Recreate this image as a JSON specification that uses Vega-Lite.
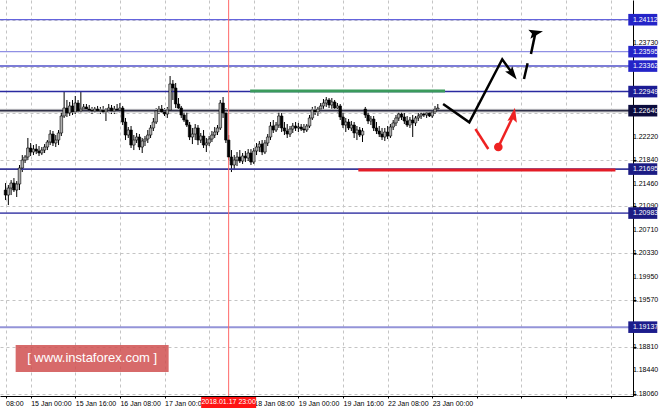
{
"$schema": "https://vega.github.io/schema/vega-lite/v6.json",
"width": 633, "height": 396,
"autosize": {"type": "none"},
"padding": {"left": 0, "top": 0, "right": 32, "bottom": 12},
"background": "#ffffff",
"config": {"view": {"stroke": null}, "font": "Liberation Sans"},
"datasets": {
"candles": [
{"i":7,"o":1.21356,"h":1.21469,"l":1.21194,"c":1.21275},
{"i":8,"o":1.21275,"h":1.21437,"l":1.21113,"c":1.21388},
{"i":9,"o":1.21388,"h":1.21517,"l":1.21275,"c":1.21469},
{"i":10,"o":1.21469,"h":1.21550,"l":1.21324,"c":1.21356},
{"i":11,"o":1.21356,"h":1.21501,"l":1.21243,"c":1.21453},
{"i":12,"o":1.21453,"h":1.21761,"l":1.21356,"c":1.21712},
{"i":13,"o":1.21712,"h":1.21922,"l":1.21647,"c":1.21841},
{"i":14,"o":1.21841,"h":1.21922,"l":1.21793,"c":1.21890},
{"i":15,"o":1.21890,"h":1.22198,"l":1.21841,"c":1.22036},
{"i":16,"o":1.22036,"h":1.22117,"l":1.21906,"c":1.21971},
{"i":17,"o":1.21971,"h":1.22084,"l":1.21922,"c":1.22019},
{"i":18,"o":1.22019,"h":1.22100,"l":1.21938,"c":1.21987},
{"i":19,"o":1.21987,"h":1.22068,"l":1.21906,"c":1.21955},
{"i":20,"o":1.21955,"h":1.22052,"l":1.21922,"c":1.22003},
{"i":21,"o":1.22003,"h":1.22100,"l":1.21955,"c":1.22052},
{"i":22,"o":1.22052,"h":1.22165,"l":1.22003,"c":1.22133},
{"i":23,"o":1.22133,"h":1.22327,"l":1.22084,"c":1.22262},
{"i":24,"o":1.22262,"h":1.22311,"l":1.22068,"c":1.22117},
{"i":25,"o":1.22117,"h":1.22246,"l":1.22052,"c":1.22165},
{"i":26,"o":1.22165,"h":1.22327,"l":1.22084,"c":1.22279},
{"i":27,"o":1.22279,"h":1.22619,"l":1.22230,"c":1.22554},
{"i":28,"o":1.22554,"h":1.22942,"l":1.22522,"c":1.22683},
{"i":29,"o":1.22683,"h":1.22813,"l":1.22538,"c":1.22603},
{"i":30,"o":1.22603,"h":1.22781,"l":1.22554,"c":1.22716},
{"i":31,"o":1.22716,"h":1.22813,"l":1.22570,"c":1.22619},
{"i":32,"o":1.22619,"h":1.22878,"l":1.22586,"c":1.22764},
{"i":33,"o":1.22764,"h":1.22813,"l":1.22603,"c":1.22635},
{"i":34,"o":1.22635,"h":1.22942,"l":1.22603,"c":1.22667},
{"i":35,"o":1.22667,"h":1.22748,"l":1.22619,"c":1.22700},
{"i":36,"o":1.22700,"h":1.22748,"l":1.22635,"c":1.22667},
{"i":37,"o":1.22667,"h":1.22732,"l":1.22603,"c":1.22651},
{"i":38,"o":1.22651,"h":1.22700,"l":1.22586,"c":1.22635},
{"i":39,"o":1.22635,"h":1.22700,"l":1.22603,"c":1.22667},
{"i":40,"o":1.22667,"h":1.22716,"l":1.22619,"c":1.22635},
{"i":41,"o":1.22635,"h":1.22700,"l":1.22586,"c":1.22651},
{"i":42,"o":1.22651,"h":1.22716,"l":1.22603,"c":1.22619},
{"i":43,"o":1.22619,"h":1.22683,"l":1.22473,"c":1.22651},
{"i":44,"o":1.22651,"h":1.22748,"l":1.22603,"c":1.22683},
{"i":45,"o":1.22683,"h":1.22732,"l":1.22586,"c":1.22635},
{"i":46,"o":1.22635,"h":1.22716,"l":1.22586,"c":1.22667},
{"i":47,"o":1.22667,"h":1.22748,"l":1.22619,"c":1.22651},
{"i":48,"o":1.22651,"h":1.22764,"l":1.22603,"c":1.22683},
{"i":49,"o":1.22683,"h":1.22716,"l":1.22408,"c":1.22457},
{"i":50,"o":1.22457,"h":1.22522,"l":1.22165,"c":1.22246},
{"i":51,"o":1.22246,"h":1.22376,"l":1.22198,"c":1.22327},
{"i":52,"o":1.22327,"h":1.22392,"l":1.22036,"c":1.22084},
{"i":53,"o":1.22084,"h":1.22246,"l":1.22003,"c":1.22165},
{"i":54,"o":1.22165,"h":1.22279,"l":1.22117,"c":1.22214},
{"i":55,"o":1.22214,"h":1.22262,"l":1.22003,"c":1.22052},
{"i":56,"o":1.22052,"h":1.22198,"l":1.21955,"c":1.22149},
{"i":57,"o":1.22149,"h":1.22230,"l":1.22068,"c":1.22181},
{"i":58,"o":1.22181,"h":1.22327,"l":1.22117,"c":1.22246},
{"i":59,"o":1.22246,"h":1.22408,"l":1.22198,"c":1.22360},
{"i":60,"o":1.22360,"h":1.22522,"l":1.22311,"c":1.22457},
{"i":61,"o":1.22457,"h":1.22683,"l":1.22424,"c":1.22635},
{"i":62,"o":1.22635,"h":1.22716,"l":1.22586,"c":1.22667},
{"i":63,"o":1.22667,"h":1.22732,"l":1.22603,"c":1.22619},
{"i":64,"o":1.22619,"h":1.22683,"l":1.22554,"c":1.22586},
{"i":65,"o":1.22586,"h":1.22700,"l":1.22522,"c":1.22651},
{"i":66,"o":1.22651,"h":1.23201,"l":1.22619,"c":1.23072},
{"i":67,"o":1.23072,"h":1.23136,"l":1.22813,"c":1.23007},
{"i":68,"o":1.23007,"h":1.23088,"l":1.22683,"c":1.22748},
{"i":69,"o":1.22748,"h":1.22845,"l":1.22651,"c":1.22683},
{"i":70,"o":1.22683,"h":1.22716,"l":1.22522,"c":1.22570},
{"i":71,"o":1.22570,"h":1.22651,"l":1.22457,"c":1.22489},
{"i":72,"o":1.22489,"h":1.22619,"l":1.22376,"c":1.22408},
{"i":73,"o":1.22408,"h":1.22457,"l":1.22165,"c":1.22214},
{"i":74,"o":1.22214,"h":1.22360,"l":1.22100,"c":1.22262},
{"i":75,"o":1.22262,"h":1.22424,"l":1.22165,"c":1.22360},
{"i":76,"o":1.22360,"h":1.22408,"l":1.22084,"c":1.22165},
{"i":77,"o":1.22165,"h":1.22279,"l":1.22117,"c":1.22230},
{"i":78,"o":1.22230,"h":1.22327,"l":1.22036,"c":1.22084},
{"i":79,"o":1.22084,"h":1.22198,"l":1.21971,"c":1.22117},
{"i":80,"o":1.22117,"h":1.22230,"l":1.22068,"c":1.22181},
{"i":81,"o":1.22181,"h":1.22311,"l":1.22133,"c":1.22246},
{"i":82,"o":1.22246,"h":1.22376,"l":1.22198,"c":1.22295},
{"i":83,"o":1.22295,"h":1.22408,"l":1.22246,"c":1.22360},
{"i":84,"o":1.22360,"h":1.22813,"l":1.22327,"c":1.22764},
{"i":85,"o":1.22764,"h":1.22861,"l":1.22522,"c":1.22603},
{"i":86,"o":1.22603,"h":1.22683,"l":1.22117,"c":1.22165},
{"i":87,"o":1.22165,"h":1.22246,"l":1.21841,"c":1.21890},
{"i":88,"o":1.21890,"h":1.22003,"l":1.21647,"c":1.21761},
{"i":89,"o":1.21761,"h":1.21922,"l":1.21679,"c":1.21841},
{"i":90,"o":1.21841,"h":1.21971,"l":1.21744,"c":1.21890},
{"i":91,"o":1.21890,"h":1.22003,"l":1.21793,"c":1.21825},
{"i":92,"o":1.21825,"h":1.21955,"l":1.21777,"c":1.21906},
{"i":93,"o":1.21906,"h":1.21987,"l":1.21809,"c":1.21874},
{"i":94,"o":1.21874,"h":1.22019,"l":1.21825,"c":1.21955},
{"i":95,"o":1.21955,"h":1.22019,"l":1.21761,"c":1.21809},
{"i":96,"o":1.21809,"h":1.22036,"l":1.21777,"c":1.21987},
{"i":97,"o":1.21987,"h":1.22117,"l":1.21922,"c":1.22052},
{"i":98,"o":1.22052,"h":1.22149,"l":1.21971,"c":1.22100},
{"i":99,"o":1.22100,"h":1.22165,"l":1.21922,"c":1.21971},
{"i":100,"o":1.21971,"h":1.22165,"l":1.21938,"c":1.22117},
{"i":101,"o":1.22117,"h":1.22262,"l":1.22068,"c":1.22214},
{"i":102,"o":1.22214,"h":1.22457,"l":1.22165,"c":1.22392},
{"i":103,"o":1.22392,"h":1.22489,"l":1.22279,"c":1.22327},
{"i":104,"o":1.22327,"h":1.22457,"l":1.22295,"c":1.22408},
{"i":105,"o":1.22408,"h":1.22619,"l":1.22360,"c":1.22554},
{"i":106,"o":1.22554,"h":1.22603,"l":1.22295,"c":1.22360},
{"i":107,"o":1.22360,"h":1.22457,"l":1.22246,"c":1.22311},
{"i":108,"o":1.22311,"h":1.22424,"l":1.22198,"c":1.22262},
{"i":109,"o":1.22262,"h":1.22392,"l":1.22214,"c":1.22343},
{"i":110,"o":1.22343,"h":1.22441,"l":1.22279,"c":1.22392},
{"i":111,"o":1.22392,"h":1.22457,"l":1.22311,"c":1.22360},
{"i":112,"o":1.22360,"h":1.22441,"l":1.22295,"c":1.22376},
{"i":113,"o":1.22376,"h":1.22424,"l":1.22311,"c":1.22343},
{"i":114,"o":1.22343,"h":1.22424,"l":1.22279,"c":1.22327},
{"i":115,"o":1.22327,"h":1.22424,"l":1.22295,"c":1.22392},
{"i":116,"o":1.22392,"h":1.22570,"l":1.22360,"c":1.22522},
{"i":117,"o":1.22522,"h":1.22700,"l":1.22489,"c":1.22651},
{"i":118,"o":1.22651,"h":1.22716,"l":1.22570,"c":1.22619},
{"i":119,"o":1.22619,"h":1.22700,"l":1.22554,"c":1.22667},
{"i":120,"o":1.22667,"h":1.22764,"l":1.22603,"c":1.22716},
{"i":121,"o":1.22716,"h":1.22829,"l":1.22651,"c":1.22764},
{"i":122,"o":1.22764,"h":1.22861,"l":1.22700,"c":1.22813},
{"i":123,"o":1.22813,"h":1.22845,"l":1.22683,"c":1.22732},
{"i":124,"o":1.22732,"h":1.22845,"l":1.22667,"c":1.22781},
{"i":125,"o":1.22781,"h":1.22813,"l":1.22635,"c":1.22683},
{"i":126,"o":1.22683,"h":1.22764,"l":1.22603,"c":1.22716},
{"i":127,"o":1.22716,"h":1.22748,"l":1.22489,"c":1.22538},
{"i":128,"o":1.22538,"h":1.22619,"l":1.22360,"c":1.22408},
{"i":129,"o":1.22408,"h":1.22522,"l":1.22295,"c":1.22457},
{"i":130,"o":1.22457,"h":1.22505,"l":1.22327,"c":1.22360},
{"i":131,"o":1.22360,"h":1.22473,"l":1.22311,"c":1.22408},
{"i":132,"o":1.22408,"h":1.22457,"l":1.22198,"c":1.22279},
{"i":133,"o":1.22279,"h":1.22392,"l":1.22165,"c":1.22327},
{"i":134,"o":1.22327,"h":1.22376,"l":1.22214,"c":1.22246},
{"i":135,"o":1.22246,"h":1.22360,"l":1.22133,"c":1.22311},
{"i":136,"o":1.22667,"h":1.22700,"l":1.22522,"c":1.22570},
{"i":137,"o":1.22570,"h":1.22619,"l":1.22424,"c":1.22473},
{"i":138,"o":1.22473,"h":1.22554,"l":1.22408,"c":1.22505},
{"i":139,"o":1.22505,"h":1.22554,"l":1.22311,"c":1.22360},
{"i":140,"o":1.22360,"h":1.22457,"l":1.22262,"c":1.22311},
{"i":141,"o":1.22311,"h":1.22392,"l":1.22214,"c":1.22262},
{"i":142,"o":1.22262,"h":1.22360,"l":1.22165,"c":1.22214},
{"i":143,"o":1.22214,"h":1.22360,"l":1.22149,"c":1.22295},
{"i":144,"o":1.22295,"h":1.22392,"l":1.22181,"c":1.22230},
{"i":145,"o":1.22230,"h":1.22424,"l":1.22198,"c":1.22376},
{"i":146,"o":1.22376,"h":1.22489,"l":1.22327,"c":1.22441},
{"i":147,"o":1.22441,"h":1.22570,"l":1.22392,"c":1.22522},
{"i":148,"o":1.22522,"h":1.22635,"l":1.22473,"c":1.22586},
{"i":149,"o":1.22586,"h":1.22619,"l":1.22489,"c":1.22538},
{"i":150,"o":1.22538,"h":1.22603,"l":1.22424,"c":1.22473},
{"i":151,"o":1.22473,"h":1.22554,"l":1.22376,"c":1.22408},
{"i":152,"o":1.22408,"h":1.22538,"l":1.22360,"c":1.22489},
{"i":153,"o":1.22489,"h":1.22570,"l":1.22214,"c":1.22441},
{"i":154,"o":1.22441,"h":1.22554,"l":1.22392,"c":1.22522},
{"i":155,"o":1.22522,"h":1.22603,"l":1.22473,"c":1.22554},
{"i":156,"o":1.22554,"h":1.22619,"l":1.22505,"c":1.22586},
{"i":157,"o":1.22586,"h":1.22635,"l":1.22538,"c":1.22570},
{"i":158,"o":1.22570,"h":1.22635,"l":1.22522,"c":1.22603},
{"i":159,"o":1.22603,"h":1.22651,"l":1.22538,"c":1.22554},
{"i":160,"o":1.22554,"h":1.22635,"l":1.22522,"c":1.22619},
{"i":161,"o":1.22619,"h":1.22716,"l":1.22586,"c":1.22667},
{"i":162,"o":1.22667,"h":1.22748,"l":1.22619,"c":1.22683}
],
"yticks": [
{"v":1.2373,"t":"1.23730"},{"v":1.2222,"t":"1.22220"},{"v":1.2184,"t":"1.21840"},{"v":1.2146,"t":"1.21460"},
{"v":1.2109,"t":"1.21090"},{"v":1.2071,"t":"1.20710"},{"v":1.2033,"t":"1.20330"},{"v":1.1995,"t":"1.19950"},
{"v":1.1957,"t":"1.19570"},{"v":1.1881,"t":"1.18810"},{"v":1.1844,"t":"1.18440"},
{"v":1.1806,"t":"1.18060"}
],
"levels": [
{"p":1.24112,"lab":"1.24112"},{"p":1.23595,"lab":"1.23595"},{"p":1.23362,"lab":"1.23362"},{"p":1.22949,"lab":"1.22949"},
{"p":1.2264,"lab":"1.22640"},{"p":1.21695,"lab":"1.21695"},{"p":1.20983,"lab":"1.20983"},{"p":1.19137,"lab":"1.19137"}
],
"zones": [
{"z":"res","i0":94.7,"i1":164.6,"p":1.2296},
{"z":"sup","i0":133.5,"i1":225.7,"p":1.2168}
],
"paths": [
{"g":"black","s":"a","k":0,"i":163.9,"p":1.22748},
{"g":"black","s":"a","k":1,"i":173.3,"p":1.22452},
{"g":"black","s":"a","k":2,"i":185.1,"p":1.23472},
{"g":"black","s":"a","k":3,"i":188.9,"p":1.23234},
{"g":"black","s":"b","k":0,"i":192.9,"p":1.23153},
{"g":"black","s":"b","k":1,"i":194.2,"p":1.23407},
{"g":"black","s":"c","k":0,"i":195.4,"p":1.23557},
{"g":"black","s":"c","k":1,"i":197.0,"p":1.23899},
{"g":"red","s":"d","k":0,"i":175.5,"p":1.22344},
{"g":"red","s":"d","k":1,"i":180.1,"p":1.2202},
{"g":"red","s":"e","k":0,"i":183.7,"p":1.22052},
{"g":"red","s":"e","k":1,"i":189.1,"p":1.22561}
],
"heads": [
{"g":"black","n":"h1","i":188.7,"p":1.23239},
{"g":"black","n":"h2","i":197.0,"p":1.23899},
{"g":"red","n":"h3","i":189.1,"p":1.22561}
],
"dots": [{"i":183.7,"p":1.22052}],
"cursor": [{"i":87,"t":"2018.01.17 23:00"}],
"brand": [{"i":38.05,"p":1.1863,"t":"[ www.instaforex.com ]"}]
},
"layer": [
{
"data": {"name": "candles"},
"mark": {"type": "rule", "stroke": "#000000", "strokeWidth": 1},
"encoding": {
"x": {"field": "i", "type": "quantitative", "title": null, "scale": {"domain": [6.8, 230.2], "nice": false, "zero": false},
"axis": {"orient": "bottom", "values": [7,8,16,24,32,40,48,56,64,72,80,88,96,104,112,120,128,136,144,152,160,168,176,184,192,200,208,216,224], "labelExpr": "datum.value == 7 ? '08:00' : datum.value == 16 ? '15 Jan 00:00' : datum.value == 32 ? '15 Jan 16:00' : datum.value == 48 ? '16 Jan 08:00' : datum.value == 64 ? '17 Jan 00:00' : datum.value == 96 ? '18 Jan 08:00' : datum.value == 112 ? '19 Jan 00:00' : datum.value == 128 ? '19 Jan 16:00' : datum.value == 144 ? '22 Jan 08:00' : datum.value == 160 ? '23 Jan 00:00' : ''", "grid": true, "gridColor": "#c4c4c4", "gridDash": [3,3], "gridWidth": 1, "tickSize": 2, "tickColor": "#000000", "domainColor": "#000000", "labelFontSize": 7, "labelColor": "#000000", "labelAlign": "left", "labelPadding": 1, "labelFlush": false, "labelOverlap": false, "labelBound": false, "title": null}},
"y": {"field": "l", "type": "quantitative", "title": null, "scale": {"domain": [1.18023, 1.24431], "nice": false, "zero": false},
"axis": {"orient": "right", "values": [1.2411,1.2373,1.2335,1.2297,1.226,1.2222,1.2184,1.2146,1.2109,1.2071,1.2033,1.1995,1.1957,1.1919,1.1881,1.1844,1.1806], "labels": false, "title": null, "grid": true, "gridColor": "#c4c4c4", "gridDash": [3,3], "gridWidth": 1, "tickSize": 3, "tickColor": "#000000", "domainColor": "#000000"}},
"y2": {"field": "h"}
}
},
{
"data": {"name": "levels"},
"transform": [{"filter": "datum.lab == '1.22640'"}],
"mark": {"type": "rule", "stroke": "#d6d6d6", "strokeWidth": 4},
"encoding": {"y": {"field": "p", "type": "quantitative", "title": null}}
},
{
"data": {"name": "levels"},
"mark": {"type": "rule"},
"encoding": {
"y": {"field": "p", "type": "quantitative", "title": null},
"stroke": {"field": "lab", "type": "nominal", "legend": null, "scale": {"domain": ["1.24112","1.23595","1.23362","1.22949","1.22640","1.21695","1.20983","1.19137"], "range": ["#6464dc","#9090e4","#5050c8","#2a2aa0","#303048","#3a3a98","#5a5ab4","#9494d8"]}},
"strokeWidth": {"field": "lab", "type": "ordinal", "legend": null, "scale": {"domain": ["1.24112","1.23595","1.23362","1.22949","1.22640","1.21695","1.20983","1.19137"], "range": [1.2,2,1,1.2,1,1,1.5,2]}}
}
},
{
"data": {"name": "zones"},
"mark": {"type": "rule", "strokeWidth": 3},
"encoding": {
"x": {"field": "i0", "type": "quantitative", "title": null},
"x2": {"field": "i1"},
"y": {"field": "p", "type": "quantitative", "title": null},
"color": {"condition": {"test": "datum.z == 'res'", "value": "#3a9a5c"}, "value": "#e41c26"}
}
},
{
"data": {"name": "cursor"},
"mark": {"type": "rule", "stroke": "#ff6868", "strokeWidth": 1},
"encoding": {"x": {"field": "i", "type": "quantitative", "title": null}}
},
{
"data": {"name": "candles"},
"mark": {"type": "bar", "width": 2.6, "stroke": "#000000", "strokeWidth": 0.6},
"encoding": {
"x": {"field": "i", "type": "quantitative", "title": null},
"y": {"field": "o", "type": "quantitative", "title": null},
"y2": {"field": "c"},
"fill": {"condition": {"test": "datum.c >= datum.o", "value": "#b0b0b0"}, "value": "#000000"}
}
},
{
"data": {"name": "paths"},
"mark": {"type": "line", "strokeWidth": 2.5},
"encoding": {
"x": {"field": "i", "type": "quantitative", "title": null},
"y": {"field": "p", "type": "quantitative", "title": null},
"detail": {"field": "s"},
"order": {"field": "k"},
"stroke": {"condition": {"test": "datum.g == 'red'", "value": "#ee2222"}, "value": "#000000"}
}
},
{
"data": {"name": "heads"},
"mark": {"type": "point", "filled": true, "opacity": 1, "shape": "M0,-1L0.6,0.8L0,0.45L-0.6,0.8Z"},
"encoding": {
"x": {"field": "i", "type": "quantitative", "title": null},
"y": {"field": "p", "type": "quantitative", "title": null},
"angle": {"field": "n", "type": "ordinal", "legend": null, "scale": {"domain": ["h1","h2","h3"], "range": [143,11,25]}},
"size": {"field": "n", "type": "ordinal", "legend": null, "scale": {"domain": ["h1","h2","h3"], "range": [220,260,300]}},
"color": {"condition": {"test": "datum.g == 'red'", "value": "#ee2222"}, "value": "#000000"}
}
},
{
"data": {"name": "dots"},
"mark": {"type": "point", "filled": true, "opacity": 1, "shape": "circle", "size": 75, "color": "#ee2222"},
"encoding": {
"x": {"field": "i", "type": "quantitative", "title": null},
"y": {"field": "p", "type": "quantitative", "title": null}
}
},
{
"data": {"name": "brand"},
"mark": {"type": "point", "filled": true, "opacity": 0.85, "shape": "M-7.65,-1.35L7.65,-1.35L7.65,1.35L-7.65,1.35Z", "size": 400, "color": "#d05050"},
"encoding": {
"x": {"field": "i", "type": "quantitative", "title": null},
"y": {"field": "p", "type": "quantitative", "title": null}
}
},
{
"data": {"name": "brand"},
"mark": {"type": "text", "color": "#ffffff", "fontSize": 13, "align": "center", "baseline": "middle", "font": "Liberation Sans"},
"encoding": {
"x": {"field": "i", "type": "quantitative", "title": null},
"y": {"field": "p", "type": "quantitative", "title": null},
"text": {"field": "t"}
}
},
{
"data": {"name": "yticks"},
"mark": {"type": "text", "color": "#000000", "fontSize": 7, "align": "left", "baseline": "middle"},
"encoding": {
"x": {"datum": 231.95, "type": "quantitative", "title": null},
"y": {"field": "v", "type": "quantitative", "title": null},
"text": {"field": "t"}
}
},
{
"data": {"name": "levels"},
"mark": {"type": "point", "filled": true, "opacity": 1, "shape": "M-1.45,-0.58L1.45,-0.58L1.45,0.58L-1.45,0.58Z", "size": 400},
"encoding": {
"x": {"datum": 235.5, "type": "quantitative", "title": null},
"y": {"field": "p", "type": "quantitative", "title": null},
"fill": {"field": "lab", "type": "nominal", "legend": null, "scale": {"domain": ["1.24112","1.23595","1.23362","1.22949","1.22640","1.21695","1.20983","1.19137"], "range": ["#2424c8","#2424c8","#2424c8","#1c1c94","#0c0c3e","#1c1c84","#1c1c84","#1c1c8c"]}}
}
},
{
"data": {"name": "levels"},
"mark": {"type": "text", "color": "#ffffff", "fontSize": 7, "align": "left", "baseline": "middle"},
"encoding": {
"x": {"datum": 231.95, "type": "quantitative", "title": null},
"y": {"field": "p", "type": "quantitative", "title": null},
"text": {"field": "lab"}
}
},
{
"data": {"name": "cursor"},
"mark": {"type": "point", "filled": true, "opacity": 1, "shape": "M-2.75,-0.55L2.75,-0.55L2.75,0.55L-2.75,0.55Z", "size": 400, "color": "#ff1414"},
"encoding": {
"x": {"field": "i", "type": "quantitative", "title": null},
"y": {"datum": 1.17918, "type": "quantitative", "title": null}
}
},
{
"data": {"name": "cursor"},
"mark": {"type": "text", "color": "#ffffff", "fontSize": 7, "align": "center", "baseline": "middle"},
"encoding": {
"x": {"field": "i", "type": "quantitative", "title": null},
"y": {"datum": 1.17918, "type": "quantitative", "title": null},
"text": {"field": "t"}
}
}
]
}
